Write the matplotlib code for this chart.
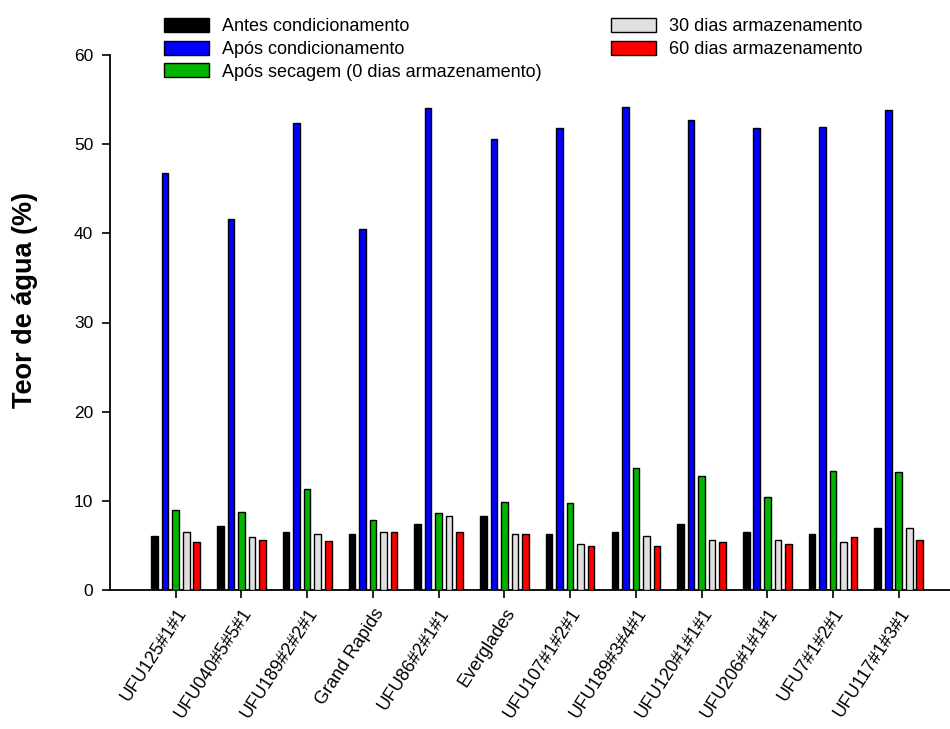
import matplotlib
matplotlib.use("Agg")
import matplotlib.pyplot as plt
import numpy as np

plt.rcParams['font.family'] = ['Liberation Sans', 'DejaVu Sans']

genotypes = ["UFU125#1#1", "UFU040#5#5#1", "UFU189#2#2#1", "Grand Rapids",
             "UFU86#2#1#1", "Everglades", "UFU107#1#2#1", "UFU189#3#4#1",
             "UFU120#1#1#1", "UFU206#1#1#1", "UFU7#1#2#1", "UFU117#1#3#1"]

antes_cond = [6.1, 7.2, 6.5, 6.3, 7.4, 8.3, 6.3, 6.5, 7.4, 6.5, 6.3, 7.0]
apos_cond = [46.8, 41.6, 52.4, 40.5, 54.1, 50.6, 51.8, 54.2, 52.7, 51.8, 51.9, 53.8]
apos_secagem = [9.0, 8.8, 11.3, 7.9, 8.6, 9.9, 9.8, 13.7, 12.8, 10.4, 13.3, 13.2]
dias_30 = [6.5, 6.0, 6.3, 6.5, 8.3, 6.3, 5.2, 6.1, 5.6, 5.6, 5.4, 7.0]
dias_60 = [5.4, 5.6, 5.5, 6.5, 6.5, 6.3, 4.9, 4.9, 5.4, 5.2, 5.9, 5.6]

series = [
    ("Antes condicionamento", antes_cond, "#000000"),
    ("Após condicionamento", apos_cond, "#0000ff"),
    ("Após secagem (0 dias armazenamento)", apos_secagem, "#00b400"),
    ("30 dias armazenamento", dias_30, "#e0e0e0"),
    ("60 dias armazenamento", dias_60, "#ff0000"),
]

fig = plt.figure(figsize=(9.5, 7.29), dpi=100)
ax = fig.add_axes([110/950, 1-590/729, 1-110/950, (590-55)/729])

x = np.arange(len(genotypes))
step = 0.16
width = 0.10
offsets = [-2*step, -step, 0, step, 2*step]
handles = []
for (label, vals, color), off in zip(series, offsets):
    h = ax.bar(x + off, vals, width=width, color=color, edgecolor="black",
               linewidth=1.0, label=label, zorder=3)
    handles.append(h)

ax.set_xlim(-1.0, 11.78)
ax.set_ylim(0, 60)
ax.set_yticks([0, 10, 20, 30, 40, 50, 60])
ax.set_xticks(x)
ax.set_xticklabels(genotypes, rotation=57, ha="right", rotation_mode="anchor",
                   fontsize=13)
ax.tick_params(axis="both", direction="out", length=6, width=1.2, labelsize=12.5)
ax.tick_params(axis="x", pad=5, labelsize=13)
ax.tick_params(axis="y", pad=6)
for s in ["top", "right"]:
    ax.spines[s].set_visible(False)
for s in ["left", "bottom"]:
    ax.spines[s].set_linewidth(1.3)

ax.set_ylabel("Teor de água (%)", fontsize=19.5, fontweight="bold")
ax.yaxis.set_label_coords(-72/840, (590-300)/535)

fig.legend(handles=handles, loc="upper left", ncol=2,
           bbox_to_anchor=(157/950, 1-11/729), frameon=False, fontsize=13,
           handlelength=2.5, handleheight=0.8, handletextpad=0.72,
           labelspacing=0.3, columnspacing=3.8, borderaxespad=0)

fig.savefig("out.png", dpi=100)
